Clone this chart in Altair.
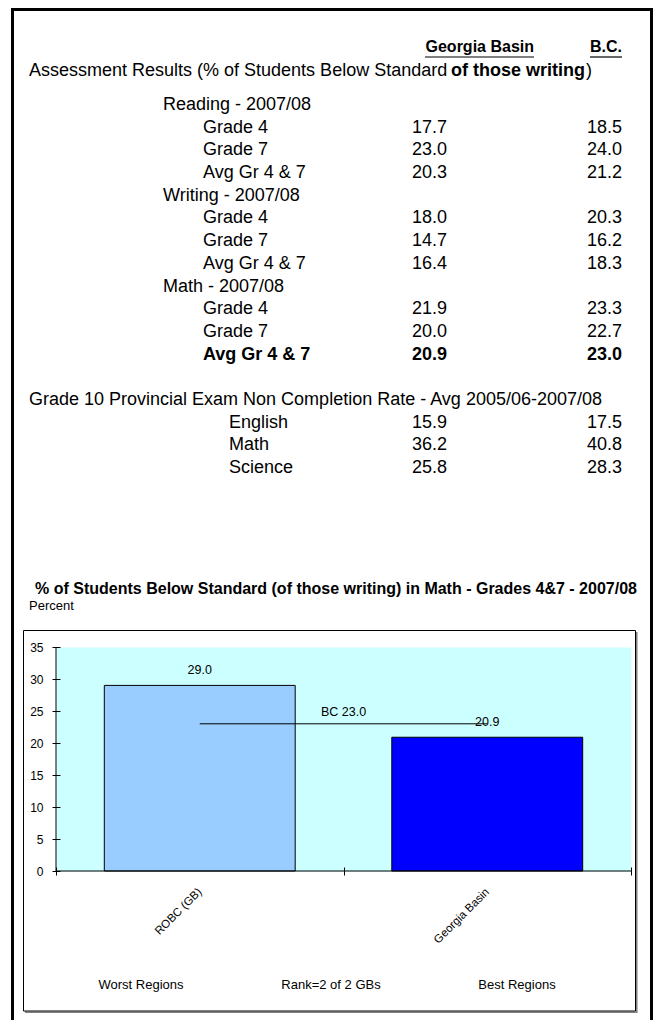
import altair as alt
import pandas as pd

# ---------------- data ----------------
col_headers = ["Georgia Basin", "B.C."]
assess_title = ["Assessment Results (% of Students Below Standard", "of those writing", ")"]

row_labels = ["Reading - 2007/08", "Grade 4", "Grade 7", "Avg Gr 4 & 7",
              "Writing - 2007/08", "Grade 4", "Grade 7", "Avg Gr 4 & 7",
              "Math - 2007/08", "Grade 4", "Grade 7", "Avg Gr 4 & 7",
              "", "Grade 10 Provincial Exam Non Completion Rate - Avg 2005/06-2007/08",
              "English", "Math", "Science"]
row_levels = ["subject", "grade", "grade", "grade",
              "subject", "grade", "grade", "grade",
              "subject", "grade", "grade", "grade",
              "grade", "exam", "course", "course", "course"]
gb_values = [None, 17.7, 23.0, 20.3, None, 18.0, 14.7, 16.4,
             None, 21.9, 20.0, 20.9, None, None, 15.9, 36.2, 25.8]
bc_values = [None, 18.5, 24.0, 21.2, None, 20.3, 16.2, 18.3,
             None, 23.3, 22.7, 23.0, None, None, 17.5, 40.8, 28.3]
row_bold = [False] * 11 + [True] + [False] * 5

chart_title = "% of Students Below Standard (of those writing) in Math - Grades 4&7 - 2007/08"
y_title = "Percent"
regions = ["ROBC (GB)", "Georgia Basin"]
region_values = [29.0, 20.9]
bc_value = 23.0
y_ticks = [0, 5, 10, 15, 20, 25, 30, 35]
bottom_notes = ["Worst Regions", "Rank=2 of 2 GBs", "Best Regions"]

# ---------------- layout (style) ----------------
FONT = "Liberation Sans"
OX, OY = 56, 647          # page position of the plot origin
W, H = 575, 224
TFS = 18                  # table font size
level_x = {"exam": 29, "subject": 163, "grade": 203, "course": 229}


def px(x):
    return x - OX


def py(y):
    return y - OY


one = pd.DataFrame({"k": [0]})

table = pd.DataFrame({
    "row": [f"r{i}" for i in range(len(row_labels))],
    "label": row_labels,
    "level": row_levels,
    "gb": gb_values,
    "bc": bc_values,
    "bold": row_bold,
})
row_order = list(table["row"])

ty = alt.Y("row:N", scale=alt.Scale(type="point", domain=row_order,
                                    range=[py(105), py(468)], padding=0), axis=None)
tbase = alt.Chart(table)

table_layers = []
for lvl, xp in level_x.items():
    for bold in (False, True):
        cond = "datum.bold" if bold else "!datum.bold"
        table_layers.append(
            tbase.transform_filter(f"datum.level == '{lvl}' && {cond}").mark_text(
                align="left", baseline="middle", fontSize=TFS, font=FONT,
                fontWeight="bold" if bold else "normal", color="black"
            ).encode(x=alt.value(px(xp)), y=ty, text="label:N")
        )


def value_layer(field, xpos, bold):
    cond = "datum.bold" if bold else "!datum.bold"
    return tbase.transform_filter(f"isValid(datum.{field}) && {cond}").mark_text(
        align="right", baseline="middle", fontSize=TFS, font=FONT,
        fontWeight="bold" if bold else "normal", color="black"
    ).encode(x=alt.value(xpos), y=ty, text=alt.Text(f"{field}:Q", format=".1f"))


table_layers += [
    value_layer("gb", px(447), False), value_layer("gb", px(447), True),
    value_layer("bc", px(622), False), value_layer("bc", px(622), True),
]
table_group = alt.layer(*table_layers)

# ---------------- bar chart ----------------
bars_df = pd.DataFrame({"region": regions, "value": region_values})
line_df = pd.DataFrame({"region": regions, "value": [bc_value] * len(regions)})

xenc = alt.X("region:N", sort=regions,
             scale=alt.Scale(domain=regions, paddingInner=0, paddingOuter=0),
             axis=alt.Axis(tickBand="extent", tickSize=8, offset=-4, domain=False,
                           labelAngle=-45, labelAlign="right", labelBaseline="middle",
                           labelPadding=15, labelFontSize=11.5, labelFont=FONT,
                           labelColor="black", tickColor="black", grid=False, title=None))
yenc = alt.Y("value:Q", scale=alt.Scale(domain=[0, 35], nice=False, zero=True),
             axis=alt.Axis(values=y_ticks, tickSize=8, offset=-4, domain=False,
                           labelPadding=9, labelFontSize=12, labelFont=FONT,
                           labelColor="black", tickColor="black", grid=False,
                           labelOverlap=False, title=None))

bars = alt.Chart(bars_df).mark_bar(
    width=alt.RelativeBandSize(0.664), stroke="black", strokeWidth=1
).encode(
    x=xenc, y=yenc,
    color=alt.Color("region:N", scale=alt.Scale(domain=regions, range=["#99CCFF", "#0000FF"]),
                    legend=None),
)
bar_labels = alt.Chart(bars_df).mark_text(
    baseline="bottom", dy=-8, fontSize=12.5, font=FONT, color="black"
).encode(x=xenc, y=yenc, text=alt.Text("value:Q", format=".1f"))
bc_line = alt.Chart(line_df).mark_line(color="black", strokeWidth=1).encode(x=xenc, y=yenc)
bc_label = alt.Chart(line_df.head(1)).transform_calculate(
    label="'BC ' + format(datum.value, '.1f')"
).mark_text(
    baseline="bottom", dy=-5, fontSize=12.5, font=FONT, color="black"
).encode(x=alt.value(W / 2), y=yenc, text=alt.Text("label:N"))
ydomain = alt.Chart(one).mark_rule(color="black", strokeWidth=1).encode(
    x=alt.value(0), y=alt.value(0), y2=alt.value(H))
xdomain = alt.Chart(one).mark_rule(color="black", strokeWidth=1).encode(
    x=alt.value(0), x2=alt.value(W), y=alt.value(H))

bar_group = alt.layer(bars, bc_line, bar_labels, bc_label, ydomain, xdomain)


# ---------------- decorations / headings ----------------
def rule(x, y, x2=None, y2=None, width=1.0, color="black"):
    enc = dict(x=alt.value(x), y=alt.value(y))
    if x2 is not None:
        enc["x2"] = alt.value(x2)
    if y2 is not None:
        enc["y2"] = alt.value(y2)
    return alt.Chart(one).mark_rule(color=color, strokeWidth=width).encode(**enc)


def label(text, x, y, size, align="left", weight="normal"):
    return alt.Chart(one).mark_text(
        text=text, align=align, baseline="middle", fontSize=size, font=FONT,
        fontWeight=weight, color="black"
    ).encode(x=alt.value(x), y=alt.value(y))


deco = alt.layer(
    # outer frame
    rule(px(12.5), py(8), y2=py(1040), width=3),
    rule(px(11), py(9.5), x2=px(653), width=3),
    rule(px(651.5), py(8), y2=py(1040), width=3),
    # chart box with shadow
    rule(px(636.8), py(632), y2=py(1012.5), width=1.5, color="#808080"),
    rule(px(25), py(1012.3), x2=px(637.5), width=1.5, color="#808080"),
    alt.Chart(one).mark_rect(fillOpacity=0, stroke="black", strokeWidth=1).encode(
        x=alt.value(px(23.5)), x2=alt.value(px(635.5)),
        y=alt.value(py(630.5)), y2=alt.value(py(1011))),
    # column headers
    label(col_headers[0], px(534), py(47), 16, align="right", weight="bold"),
    label(col_headers[1], px(622), py(47), 16, align="right", weight="bold"),
    rule(px(425), py(57), x2=px(534), width=1.2),
    rule(px(590), py(57), x2=px(622), width=1.2),
    # assessment title (mixed weight)
    label(assess_title[0], px(29), py(71), TFS),
    label(assess_title[1], px(451), py(71), TFS, weight="bold"),
    label(assess_title[2], px(586), py(71), TFS),
    # chart titles
    label(chart_title, px(336), py(589), 16, align="center", weight="bold"),
    label(y_title, px(29), py(606), 13),
    label(bottom_notes[0], px(141), py(985), 13, align="center"),
    label(bottom_notes[1], px(331), py(985), 13, align="center"),
    label(bottom_notes[2], px(517), py(985), 13, align="center"),
)

chart = alt.layer(bar_group, table_group, deco).resolve_scale(
    x="independent", y="independent", color="independent"
).properties(
    width=W, height=H,
    autosize=alt.AutoSizeParams(type="none"),
    padding={"left": OX - 8, "top": OY - 8, "right": 661 - 16 - OX + 8 - W,
             "bottom": 1028 - 8 - OY - H},
    background="white",
).configure(font=FONT).configure_view(fill="#CCFFFF", stroke="transparent")

chart.save("out.html", embed_options={"renderer": "svg", "actions": False})
